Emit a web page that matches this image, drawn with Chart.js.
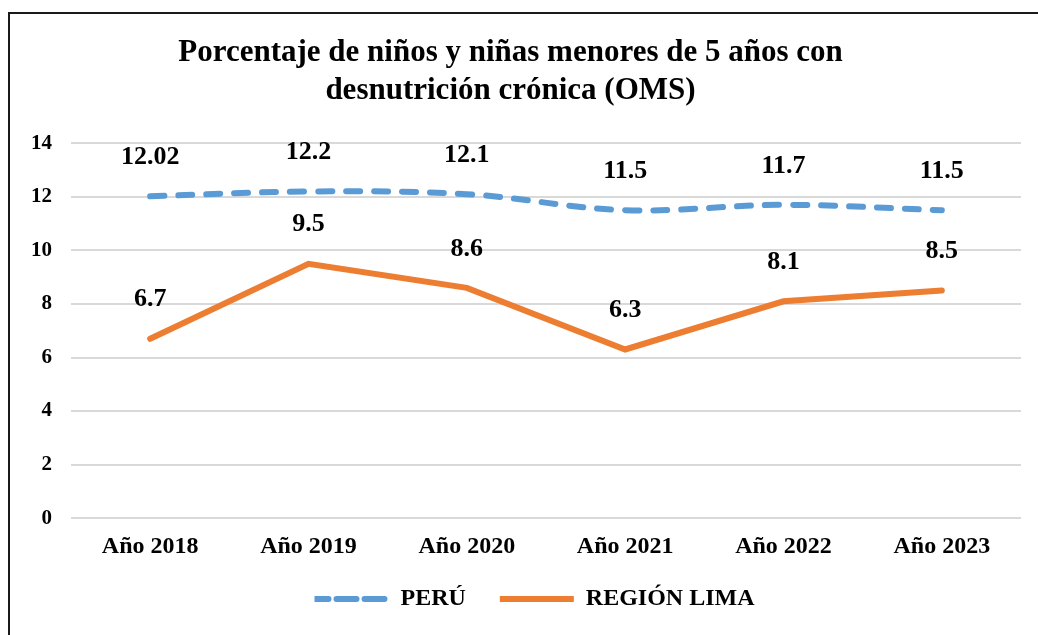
<!DOCTYPE html>
<html>
<head>
<meta charset="utf-8">
<script src="https://cdn.jsdelivr.net/npm/chart.js@4/dist/chart.umd.min.js"></script>
<style>
  html, body { margin: 0; padding: 0; background: #fff; overflow: hidden; }
  #frame {
    position: absolute; left: 8px; top: 12px; width: 1100px; height: 700px;
    border: 2px solid #1a1a1a; box-sizing: border-box;
  }
  #wrap { position: absolute; left: 0; top: 0; width: 1038px; height: 635px; }
</style>
</head>
<body>
<div id="frame"></div>
<div id="wrap"><canvas id="chart" width="1038" height="635"></canvas></div>
<script>
// ── Data ─────────────────────────────────────────────────────────────────────

const years      = ['Año 2018', 'Año 2019', 'Año 2020', 'Año 2021', 'Año 2022', 'Año 2023'];
const peru       = [12.02, 12.2, 12.1, 11.5, 11.7, 11.5];
const regionLima = [6.7, 9.5, 8.6, 6.3, 8.1, 8.5];
const peruLabels = ['12.02', '12.2', '12.1', '11.5', '11.7', '11.5'];
const limaLabels = ['6.7', '9.5', '8.6', '6.3', '8.1', '8.5'];

const SERIF = '"Liberation Serif", "DejaVu Serif", serif';

// ── Value labels above each point ────────────────────────────────────────────

const valueLabels = {
  id: 'valueLabels',
  afterDatasetsDraw(chart) {
    const ctx = chart.ctx;
    const texts = [peruLabels, limaLabels];
    ctx.save();
    ctx.font = `bold 26px ${SERIF}`;
    ctx.fillStyle = '#000';
    ctx.textAlign = 'center';
    ctx.textBaseline = 'middle';
    chart.data.datasets.forEach((ds, i) => {
      chart.getDatasetMeta(i).data.forEach((pt, j) => {
        ctx.fillText(texts[i][j], pt.x, pt.y - 39);
      });
    });
    ctx.restore();
  }
};

// legend sits a little right of centre and higher than the layout puts it
const legendShift = {
  id: 'legendShift',
  afterLayout(chart) {
    const lg = chart.legend;
    if (!lg) return;
    lg.left += 24;
    lg.right += 24;
    lg.top -= 14;
    lg.bottom -= 14;
  }
};

new Chart(document.getElementById('chart'), {
  type: 'line',
  data: {
    labels: years,
    datasets: [
      {
        label: 'PERÚ',
        data: peru,
        borderColor: '#5B9BD5',
        backgroundColor: '#5B9BD5',
        borderWidth: 6,
        borderDash: [14, 14],
        borderCapStyle: 'round',
        tension: 0.35,
        pointRadius: 0,
      },
      {
        label: 'REGIÓN LIMA',
        data: regionLima,
        borderColor: '#ED7D31',
        backgroundColor: '#ED7D31',
        borderWidth: 6,
        borderCapStyle: 'round',
        tension: 0,
        pointRadius: 0,
      },
    ],
  },
  options: {
    responsive: false,
    animation: false,
    layout: { padding: { left: 0, right: 17, top: 34, bottom: 0 } },
    plugins: {
      title: {
        display: true,
        text: ['Porcentaje de niños y niñas menores de 5 años con', 'desnutrición crónica (OMS)'],
        color: '#000',
        font: { family: SERIF, size: 31, weight: 'bold', lineHeight: 1.23 },
        padding: { top: 0, bottom: 33 },
      },
      legend: {
        position: 'bottom',
        labels: {
          color: '#000',
          font: { family: SERIF, size: 24, weight: 'bold' },
          boxWidth: 74,
          boxHeight: 0,
          padding: 34,
        },
      },
      tooltip: { enabled: false },
    },
    scales: {
      x: {
        offset: true,
        grid: { display: false },
        border: { display: false },
        ticks: { color: '#000', font: { family: SERIF, size: 24, weight: 'bold' }, padding: 6 },
      },
      y: {
        min: 0,
        max: 14,
        afterFit(s) { s.width = 71; },
        grid: { color: '#d9d9d9', lineWidth: 2, drawTicks: false },
        border: { display: false },
        ticks: { stepSize: 2, color: '#000', font: { family: SERIF, size: 21, weight: 'bold' }, padding: 19 },
      },
    },
  },
  plugins: [valueLabels, legendShift],
});
</script>
</body>
</html>
